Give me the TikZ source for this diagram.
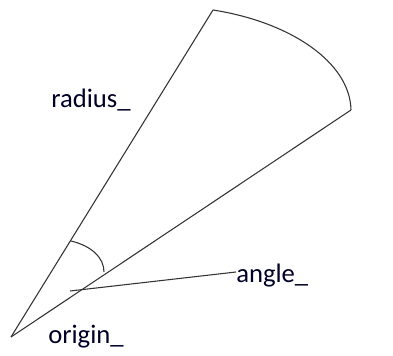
\documentclass[tikz,border=0pt]{standalone}
\usepackage{fontspec}
\setmainfont{Carlito}
\usepackage{tikz}

\begin{document}
\begin{tikzpicture}[x=0.75pt,y=-0.75pt,
  edge/.style={draw=black!80,line width=0.8pt},
  lbl/.style={anchor=base west,inner sep=0pt,font=\fontsize{20}{24}\selectfont,text=black!85!blue}]
			\useasboundingbox (0,0) rectangle (393,356);
			\coordinate (org) at (11,337);
			\coordinate (tip) at (213,10);
			\coordinate (end) at (351,110);
			\coordinate (a1) at (71,241);
			\coordinate (a2) at (104,272);
			\coordinate (pt) at (70,291);
			\node[lbl] (radius) at (51,108) {radius\_};
			\node[lbl] (origin) at (48,343) {origin\_};
			\node[lbl] (angle) at (236,282) {angle\_};
			\draw[edge] (org) -- (tip);
			\draw[edge] (tip) .. controls (290,22) and (350,62) .. (end);
			\draw[edge] (end) -- (org);
			\draw[edge] (a1) .. controls (92,246) and (104,258) .. (a2);
			\draw[edge] (pt) -- (angle.west |- 0,272);
		\end{tikzpicture}
\end{document}
